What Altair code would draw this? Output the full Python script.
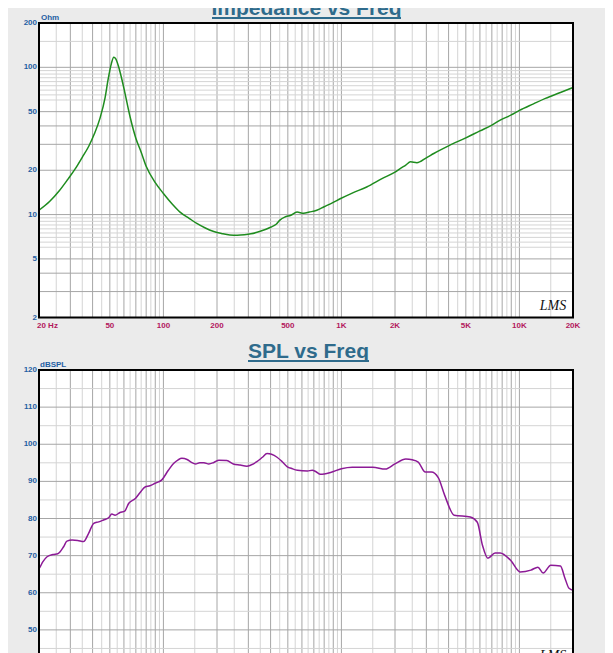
import altair as alt
import pandas as pd

# ---------------- data ----------------
imp_freq = [20, 23, 26, 29, 32, 35, 38, 41, 44, 47, 49, 51, 52.6, 54, 56, 58, 60, 65, 70, 75,
            80, 90, 100, 112, 124, 140, 154, 172, 190, 212, 236, 260, 285, 310, 350, 400, 430,
            453, 480, 520, 563, 613, 660, 727, 800, 900, 984, 1150, 1387, 1700, 2000, 2148,
            2300, 2443, 2655, 3000, 3303, 4000, 5000, 6000, 7000, 7800, 9000, 10000, 12000,
            14000, 17000, 20000]
imp_ohm = [10.7, 12.3, 14.5, 17.3, 20.5, 24.5, 29, 35.5, 45, 62, 84, 106, 117, 114, 101, 86, 72,
           46, 33, 26.5, 21.3, 16.5, 13.9, 11.8, 10.4, 9.4, 8.7, 8.1, 7.7, 7.45, 7.28, 7.25,
           7.3, 7.4, 7.7, 8.2, 8.6, 9.2, 9.6, 9.9, 10.4, 10.2, 10.4, 10.7, 11.3, 12.1, 12.8,
           14.0, 15.4, 17.6, 19.4, 20.6, 21.7, 22.8, 22.5, 24.3, 26.0, 29.3, 33.2, 37, 40.5,
           43.8, 47.5, 51, 56.5, 61.5, 67.5, 73]

spl_freq = [20, 20.3, 21, 22.2, 24, 25.5, 27.5, 28.7, 30.7, 33, 35.6, 38, 40.6, 43.3, 46, 49.2,
            51.3, 53.5, 57, 60.6, 63.9, 69.6, 74, 78.9, 84, 89.9, 98, 106.6, 114, 121, 127,
            135.8, 143, 151.5, 160, 168.9, 180, 192, 205, 227, 247, 270, 294, 310, 335, 360,
            382, 405, 435, 465, 495, 530, 566, 644, 686, 720, 762, 869, 1000, 1150, 1300, 1500,
            1766, 2000, 2300, 2500, 2700, 2960, 3200, 3500, 3800, 4300, 5300, 5800, 6200, 6650,
            7300, 7800, 8900, 10100, 11600, 12700, 13600, 15000, 17000, 18000, 19000, 20000]
spl_db = [66.5, 67.0, 68.3, 69.7, 70.3, 70.5, 72.4, 73.9, 74.2, 74.1, 73.8, 76.0, 78.7, 79.1,
          79.6, 80.2, 81.2, 80.9, 81.6, 82.0, 84.1, 85.4, 87.0, 88.5, 88.8, 89.5, 90.4, 93.0,
          94.8, 95.8, 96.2, 95.9, 95.2, 94.7, 95.0, 95.0, 94.7, 95.1, 95.7, 95.6, 94.7, 94.4,
          94.1, 94.4, 95.3, 96.5, 97.5, 97.3, 96.5, 95.3, 94.0, 93.4, 93.0, 92.8, 93.0, 92.6,
          91.9, 92.4, 93.4, 93.8, 93.8, 93.8, 93.3, 94.7, 96.0, 95.8, 95.2, 92.5, 92.5, 91.0,
          86.3, 80.9, 80.4, 79.0, 72.8, 69.3, 70.7, 70.7, 68.8, 65.6, 66.1, 66.9, 65.3, 67.4,
          67.2, 64.0, 61.2, 60.7]

x_ticks = [50, 100, 200, 500, 1000, 2000, 5000, 10000, 20000]
x_tick_labels = ["50", "100", "200", "500", "1K", "2K", "5K", "10K", "20K"]
imp_ticks = [2, 5, 10, 20, 50, 100, 200]
spl_ticks = [40, 50, 60, 70, 80, 90, 100, 110, 120]

# grid structure
decades = [10, 100, 1000, 10000]
mult_major = [1, 2, 3, 4, 5, 6, 7, 8, 9]
mult_minor = [1.5, 2.5, 3.5, 4.5, 5.5, 6.5, 7.5, 8.5, 9.5]
imp_grid_dark = [3, 4, 5, 10, 20, 30, 40, 50, 100]
imp_grid_light = [6, 6.5, 7, 7.5, 8, 8.5, 9, 9.5, 60, 65, 70, 75, 80, 85, 90, 95, 150]
spl_grid_dark = [50, 60, 70, 80, 90, 100, 110]
spl_grid_light = [45, 55, 65, 75, 85, 95, 105, 115]

# ---------------- layout constants ----------------
W, H = 534, 630
TOP_RANGE = [294.5, 0]
BOT_RANGE = [644, 347]
F_LO, F_HI = 20, 20000

GRID_DARK = "#A6A6A6"
GRID_LIGHT = "#D4D4D4"
YLAB = "#1F5FA3"
XLAB = "#B3175D"
TITLE = "#2F6B8C"
FONT = "Liberation Sans"

xs = alt.Scale(type="log", domain=[F_LO, F_HI], nice=False)


def X(field):
    return alt.X(field, type="quantitative", scale=xs, axis=None)


def Yt(field):
    return alt.Y(field, type="quantitative",
                 scale=alt.Scale(type="log", domain=[2, 200], range=TOP_RANGE, nice=False),
                 axis=None)


def Yb(field):
    return alt.Y(field, type="quantitative",
                 scale=alt.Scale(type="linear", domain=[40, 120], range=BOT_RANGE,
                                 nice=False, zero=False),
                 axis=None)


vf_dark = [m * d for d in decades for m in mult_major if F_LO < m * d < F_HI]
vf_light = [m * d for d in decades for m in mult_minor if F_LO < m * d < F_HI]

layers = []
for Yf, lo, hi, hdark, hlight in [(Yt, 2, 200, imp_grid_dark, imp_grid_light),
                                  (Yb, 40, 120, spl_grid_dark, spl_grid_light)]:
    panel = pd.DataFrame({"f1": [F_LO], "f2": [F_HI], "lo": [lo], "hi": [hi]})
    layers.append(alt.Chart(panel).mark_rect(fill="white").encode(
        x=X("f1"), x2="f2", y=Yf("lo"), y2="hi"))
    for vals, col in [(vf_light, GRID_LIGHT), (vf_dark, GRID_DARK)]:
        d = pd.DataFrame({"f": vals, "lo": lo, "hi": hi})
        layers.append(alt.Chart(d).mark_rule(color=col, strokeWidth=1).encode(
            x=X("f"), y=Yf("lo"), y2="hi"))
    for vals, col in [(hlight, GRID_LIGHT), (hdark, GRID_DARK)]:
        d = pd.DataFrame({"v": vals, "f1": F_LO, "f2": F_HI})
        layers.append(alt.Chart(d).mark_rule(color=col, strokeWidth=1).encode(
            x=X("f1"), x2="f2", y=Yf("v")))

imp_df = pd.DataFrame({"f": imp_freq, "v": imp_ohm})
spl_df = pd.DataFrame({"f": spl_freq, "v": spl_db})
layers.append(alt.Chart(imp_df).mark_line(color="#1E8C1E", strokeWidth=1.5,
                                          interpolate="monotone").encode(x=X("f"), y=Yt("v")))
layers.append(alt.Chart(spl_df).mark_line(color="#8C1A96", strokeWidth=1.5,
                                          interpolate="monotone").encode(x=X("f"), y=Yb("v")))

# borders
for Yf, lo, hi in [(Yt, 2, 200), (Yb, 40, 120)]:
    panel = pd.DataFrame({"f1": [F_LO], "f2": [F_HI], "lo": [lo], "hi": [hi]})
    layers.append(alt.Chart(panel).mark_rect(fillOpacity=0, stroke="#000000",
                                             strokeWidth=2).encode(
        x=X("f1"), x2="f2", y=Yf("lo"), y2="hi"))

# y tick labels
for Yf, ticks in [(Yt, imp_ticks), (Yb, spl_ticks)]:
    d = pd.DataFrame({"v": ticks, "label": [str(t) for t in ticks]})
    layers.append(alt.Chart(d).mark_text(align="right", baseline="middle", font=FONT,
                                         fontSize=8, fontWeight="bold", color=YLAB).encode(
        x=alt.value(-2), y=Yf("v"), text="label:N"))

# axis unit labels
layers.append(alt.Chart(pd.DataFrame({"t": ["Ohm"]})).mark_text(
    align="left", baseline="alphabetic", font=FONT, fontSize=8, fontWeight="bold",
    color=YLAB).encode(x=alt.value(2), y=alt.value(-3), text="t:N"))
layers.append(alt.Chart(pd.DataFrame({"t": ["dBSPL"]})).mark_text(
    align="left", baseline="alphabetic", font=FONT, fontSize=8, fontWeight="bold",
    color=YLAB).encode(x=alt.value(1), y=alt.value(343.5), text="t:N"))

# x tick labels (top panel)
xl = pd.DataFrame({"f": x_ticks, "label": x_tick_labels})
layers.append(alt.Chart(xl).mark_text(align="center", baseline="middle", font=FONT,
                                      fontSize=8, fontWeight="bold", color=XLAB).encode(
    x=X("f"), y=alt.value(302.5), text="label:N"))
layers.append(alt.Chart(pd.DataFrame({"f": [20], "label": ["20  Hz"]})).mark_text(
    align="left", baseline="middle", dx=-2, font=FONT, fontSize=8, fontWeight="bold",
    color=XLAB).encode(x=X("f"), y=alt.value(302.5), text="label:N"))

# titles with underline
for title, ty, x1, x2 in [("Impedance vs Freq", -8, 173, 362), ("SPL vs Freq", 335, 209, 330)]:
    layers.append(alt.Chart(pd.DataFrame({"t": [title]})).mark_text(
        align="center", baseline="alphabetic", font=FONT, fontSize=21, fontWeight="bold",
        color=TITLE).encode(x=alt.value((x1 + x2) / 2), y=alt.value(ty), text="t:N"))
    layers.append(alt.Chart(pd.DataFrame({"t": [title]})).mark_rule(
        color=TITLE, strokeWidth=2).encode(x=alt.value(x1), x2=alt.value(x2),
                                          y=alt.value(ty + 3)))

# LMS marks
for ly in [283, 632.5]:
    layers.append(alt.Chart(pd.DataFrame({"t": ["LMS"]})).mark_text(
        align="center", baseline="middle", font="Liberation Serif", fontStyle="italic",
        fontSize=14, color="#111111").encode(x=alt.value(514), y=alt.value(ly), text="t:N"))

chart = alt.layer(*layers).resolve_scale(y="independent").properties(
    width=W, height=H,
    autosize=alt.AutoSizeParams(type="none"),
    padding={"left": 31, "top": 15, "right": 32, "bottom": 0},
    background="#EBEBEB",
).configure_view(strokeWidth=0)

chart.save("out.html", embed_options={"renderer": "svg", "actions": False})
